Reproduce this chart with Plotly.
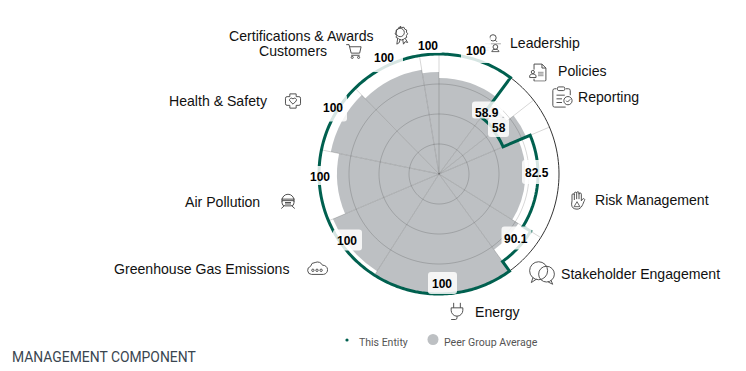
import base64
import plotly.graph_objects as go

# ---------- data ----------
categories = ["Leadership", "Policies", "Reporting", "Risk Management", "Stakeholder Engagement",
              "Energy", "Greenhouse Gas Emissions", "Air Pollution", "Health & Safety",
              "Customers", "Certifications & Awards"]
sector_edges = [0, 36.6, 52, 67, 122, 144, 212.5, 247, 281.6, 315.6, 350.6, 360]
this_entity = [100, 58.9, 58, 82.5, 90.1, 100, 100, 100, 100, 100, 100]
peer_average = [80, 72, 79, 72, 78, 99.5, 96, 85, 92, 88, 85]
ring_values = [25, 50, 75]
outer_value = 100
legend_names = ["This Entity", "Peer Group Average"]
title_text = "MANAGEMENT COMPONENT"

# ---------- styling / layout ----------
W, H = 746, 371
CX, CY, R = 439, 174, 120
PAD = 1.04  # head-room so the thick outline at the outer ring is not clipped
GREEN = "#00604f"
GREY = "#bdc0c3"
GRID = "rgba(0,0,0,0.16)"


def px(x):
    return x / W


def py(y):
    return 1 - y / H


widths = [b - a for a, b in zip(sector_edges[:-1], sector_edges[1:])]
mids = [a + w / 2 for a, w in zip(sector_edges[:-1], widths)]

fig = go.Figure()
fig.add_trace(go.Barpolar(r=peer_average, theta=mids, width=widths, text=categories,
                          marker=dict(color=GREY, line=dict(width=0)),
                          name=legend_names[1], showlegend=False))

# grid above the bars
full_circle = list(range(0, 361, 2))
for v in ring_values:
    fig.add_trace(go.Scatterpolar(r=[v] * len(full_circle), theta=full_circle, mode="lines",
                                  line=dict(color=GRID, width=1), hoverinfo="skip", showlegend=False))
for e in sector_edges[:-1]:
    fig.add_trace(go.Scatterpolar(r=[0, outer_value], theta=[e, e], mode="lines",
                                  line=dict(color=GRID, width=1), hoverinfo="skip", showlegend=False))
fig.add_trace(go.Scatterpolar(r=[outer_value] * len(full_circle), theta=full_circle, mode="lines",
                              line=dict(color="#333333", width=1), hoverinfo="skip", showlegend=False))

# entity outline: each sector drawn as an arc at its value
line_r, line_t = [], []
for a, b, v in zip(sector_edges[:-1], sector_edges[1:], this_entity):
    n = max(int(b - a), 1)
    for i in range(n + 1):
        line_t.append(a + (b - a) * i / n)
        line_r.append(v)
fig.add_trace(go.Scatterpolar(r=line_r, theta=line_t, mode="lines", name=legend_names[0],
                              line=dict(color=GREEN, width=3), showlegend=False, hoverinfo="skip"))

shapes = []


def rounded(cx, cy, w, h, rad=3, op=0.84):
    x0, x1, y0, y1 = cx - w / 2, cx + w / 2, cy - h / 2, cy + h / 2
    pts = [("M", x0 + rad, y0), ("L", x1 - rad, y0), ("Q", x1, y0, x1, y0 + rad), ("L", x1, y1 - rad),
           ("Q", x1, y1, x1 - rad, y1), ("L", x0 + rad, y1), ("Q", x0, y1, x0, y1 - rad),
           ("L", x0, y0 + rad), ("Q", x0, y0, x0 + rad, y0)]
    d = ""
    for p in pts:
        d += p[0]
        for j, c in enumerate(p[1:]):
            d += (f"{px(c):.5f}" if j % 2 == 0 else f"{py(c):.5f}") + (" " if j < len(p) - 2 else "")
        d += " "
    shapes.append(dict(type="path", xref="paper", yref="paper", path=d + "Z",
                       fillcolor=f"rgba(255,255,255,{op})", line=dict(width=0), layer="above"))


annotations = []


def text(x, y, s, size=14.1, color="#111111", anchor="left", family="Liberation Sans, Arial, sans-serif", bold=False):
    annotations.append(dict(x=px(x), y=py(y), xref="paper", yref="paper", showarrow=False,
                            text=f"<b>{s}</b>" if bold else s, xanchor=anchor, yanchor="middle",
                            font=dict(size=size, color=color, family=family)))


# value-label boxes (centre x, centre y, w, h), in category order
boxes = [(476, 50, 30, 26), (487.5, 110, 31, 17), (498.5, 127.5, 21, 19), (537, 172, 30, 24),
         (516.5, 238, 30, 23), (442.5, 283, 29, 22), (347.5, 240, 29, 21), (320, 175.5, 26, 19),
         (332.5, 108, 29, 27), (387.5, 59, 31, 26), (428, 43, 30, 20)]
for b in boxes:
    rounded(*b)

value_pos = [(476, 51), (487, 113), (499, 128), (537, 173), (516, 239), (442, 284), (347, 241),
             (320, 177), (333, 108), (384, 58), (428, 46)]
for (x, y), v in zip(value_pos, this_entity):
    text(x, y, f"{v:g}", size=12, color="#000000", anchor="center", bold=True)

# category labels: (x, y, anchor)
label_pos = [(508, 43, "left"), (556, 71, "left"), (576, 97, "left"), (593, 200, "left"),
             (559, 274, "left"), (473, 312, "left"), (112, 269, "left"), (183, 202, "left"),
             (167, 101, "left"), (293, 51, "center"), (301, 36, "center")]
for (x, y, a), c in zip(label_pos, categories):
    text(x, y, c, anchor=a)

# legend + component title
DIN = "Roboto, sans-serif"
text(357, 342.5, legend_names[0], size=10.5, color="#555555", family=DIN)
text(442, 342.5, legend_names[1], size=10.6, color="#555555", family=DIN)
text(10, 357, title_text, size=13.9, color="#3a4650", family=DIN)


def dot(cx, cy, r, color):
    shapes.append(dict(type="circle", xref="paper", yref="paper", x0=px(cx - r), x1=px(cx + r),
                       y0=py(cy + r), y1=py(cy - r), fillcolor=color, line=dict(width=0), layer="above"))


dot(347, 340, 1.6, GREEN)
dot(433, 339.5, 5.5, GREY)

# icons
ICONS = {
    "cert": '<circle cx="11" cy="9" r="5"/><path d="M11 1.5l2 1.5 2.5-.3 1 2.3 2.3 1-.3 2.5 1.5 2-1.5 2 .3 2.5-2.3 1-1 1-3 1-3-1-1-1-2.3-1 .3-2.5-1.5-2 1.5-2-.3-2.5 2.3-1 1-2.3 2.5.3z"/><path d="M8 16l-1 7 3-2 1-4M14 17l1 6 2-3 3 1-3-5"/>',
    "cart": '<path d="M1 3h4l3 12h12l2-9H6"/><path d="M8 18h12"/><circle cx="9.5" cy="21" r="1.5"/><circle cx="18.5" cy="21" r="1.5"/>',
    "lead": '<circle cx="12" cy="5.5" r="4"/><path d="M15 8.5l2 2"/><path d="M2 13h20" stroke-opacity=".5"/><circle cx="15" cy="17" r="3"/><path d="M10.5 23c0-2 2-3 4.5-3s4.5 1 4.5 3z"/><path d="M2 18h6M2 21h5" stroke-opacity=".4"/>',
    "pol": '<path d="M7 9V2h10l5 5v15a1.5 1.5 0 0 1-1.5 1.5H7v-3"/><path d="M17 2v5h5"/><circle cx="5.5" cy="12" r="2"/><path d="M1.5 19v-2c0-1.5 2-2.5 4-2.5s4 1 4 2.5v2z"/><path d="M12 13h7M12 16h7" stroke="#aaa" stroke-width="2.5"/>',
    "rep": '<path d="M16 3h3a2 2 0 0 1 2 2v5M6 3H4a2 2 0 0 0-2 2v16a2 2 0 0 0 2 2h12"/><rect x="7" y="1" width="8" height="4" rx="1.5"/><path d="M6 10h9M6 14h6M6 18h6"/><circle cx="18.5" cy="16" r="4.5"/><path d="M16.5 16l1.5 1.5 3-3"/>',
    "risk": '<path d="M6 13V6a1.4 1.4 0 0 1 2.8 0V4a1.4 1.4 0 0 1 2.8 0v-.5a1.4 1.4 0 0 1 2.8 0V5a1.4 1.4 0 0 1 2.8 0v8l1.5-2a1.4 1.4 0 0 1 2.3 1.6C19 16 18 23 12 23c-4 0-6.5-2-6.5-6z"/><path d="M8.8 6v6M11.6 4v7M14.4 4v7"/><path d="M12 14l3.5 6h-7z" stroke-width="1"/>',
    "stake": '<circle cx="9" cy="10" r="8"/><path d="M4 16l-1.5 4.5 4.5-3"/><circle cx="16" cy="13" r="7"/><path d="M20 18.5l1.5 3.5-4-2"/>',
    "energy": '<path d="M8 1v6M16 1v6M5 7h14v3a7 7 0 0 1-14 0z"/><path d="M12 17v2a2 2 0 0 1-2 2H5" />',
    "ghg": '<path d="M6 19a4.5 4.5 0 0 1-1-8.8A5 5 0 0 1 10 6a6 6 0 0 1 8 3 5 5 0 0 1 1 10z"/><circle cx="7.5" cy="14.5" r="1.3"/><circle cx="12" cy="14.5" r="1.3"/><circle cx="16.5" cy="14.5" r="1.3"/>',
    "air": '<path d="M4 13V11a8 8 0 0 1 16 0v2"/><path d="M3 9.5h18"/><path d="M4 11.5h16v3a4 4 0 0 1-4 4H8a4 4 0 0 1-4-4z"/><path d="M8 14h8M8 16h8"/><path d="M7 18.5L3 22M17 18.5l4 3.5"/>',
    "health": '<path d="M8 3h8v3.5h3.5a2 2 0 0 1 2 2v7a2 2 0 0 1-2 2H16V21H8v-3.5H4.5a2 2 0 0 1-2-2v-7a2 2 0 0 1 2-2H8z" stroke-linejoin="round"/><path d="M12 16l-4-4a2.3 2.3 0 0 1 4-2.5 2.3 2.3 0 0 1 4 2.5z"/>',
}
icon_place = [("lead", 493, 43, 19), ("pol", 538, 72, 19), ("rep", 562, 97, 22), ("risk", 577, 200, 20),
              ("stake", 542, 273, 27), ("energy", 457, 312, 20), ("ghg", 317, 268, 22),
              ("air", 288, 201, 18), ("health", 293, 101, 19), ("cart", 354, 51, 17), ("cert", 401, 35, 20)]
images = []
for key, x, y, s in icon_place:
    sw = 24 * 0.95 / s
    svg = ('<svg xmlns="http://www.w3.org/2000/svg" width="96" height="96" viewBox="0 0 24 24" fill="none" '
           f'stroke="#4a4a4a" stroke-width="{sw:.2f}">{ICONS[key]}</svg>')
    images.append(dict(source="data:image/svg+xml;base64," + base64.b64encode(svg.encode()).decode(),
                       xref="paper", yref="paper", x=px(x), y=py(y), sizex=s / W, sizey=s / H,
                       xanchor="center", yanchor="middle", sizing="contain", layer="above"))

RR = R * PAD
fig.update_layout(
    width=W, height=H, margin=dict(l=0, r=0, t=0, b=0), paper_bgcolor="white", showlegend=False,
    polar=dict(
        domain=dict(x=[px(CX - RR), px(CX + RR)], y=[py(CY + RR), py(CY - RR)]),
        bgcolor="white", barmode="overlay",
        angularaxis=dict(rotation=90, direction="clockwise", showticklabels=False, ticks="",
                         showgrid=False, showline=False),
        radialaxis=dict(range=[0, outer_value * PAD], showticklabels=False, ticks="", showgrid=False, showline=False),
    ),
    shapes=shapes, annotations=annotations, images=images,
)
fig.write_html("out.html", config=dict(displayModeBar=False),
               post_script="document.body.style.margin='0';document.body.style.overflow='hidden';")
